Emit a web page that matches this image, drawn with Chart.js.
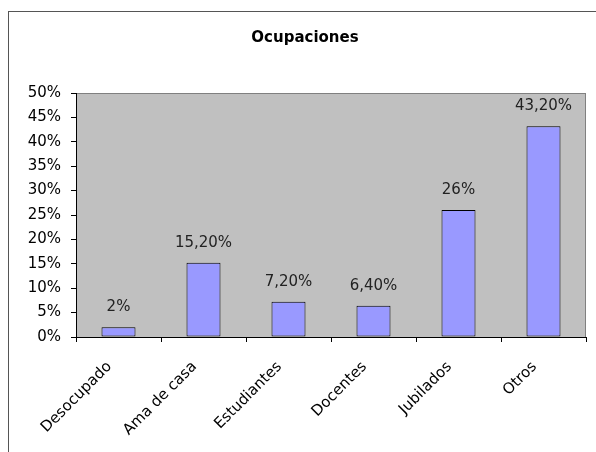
<!DOCTYPE html>
<html>
<head>
<meta charset="utf-8">
<script src="https://cdn.jsdelivr.net/npm/chart.js@4.4.1/dist/chart.umd.min.js"></script>
<style>
  body { margin: 0; background: #fff; }
</style>
</head>
<body>
<canvas id="grafica" width="596" height="452"></canvas>
<script>
// Datos
const titulo = "Ocupaciones";
const categorias = ["Desocupado", "Ama de casa", "Estudiantes", "Docentes", "Jubilados", "Otros"];
const porcentajes = [2, 15.2, 7.2, 6.4, 26, 43.2];
const etiquetas = ["2%", "15,20%", "7,20%", "6,40%", "26%", "43,20%"];
const ticksY = [0, 5, 10, 15, 20, 25, 30, 35, 40, 45, 50];

const FUENTE = "'DejaVu Sans', sans-serif";

// Fondo gris del area de trazado, marco exterior y titulo
const fondo = {
  id: "fondo",
  beforeDraw(chart) {
    const ctx = chart.ctx;
    const a = chart.chartArea;
    ctx.save();
    ctx.fillStyle = "#fff";
    ctx.fillRect(0, 0, chart.width, chart.height);
    ctx.strokeStyle = "#555";
    ctx.lineWidth = 1;
    ctx.strokeRect(8.5, 11.5, 800, 800);
    ctx.fillStyle = "#c0c0c0";
    ctx.fillRect(a.left, a.top, a.right - a.left, a.bottom - a.top);
    ctx.strokeStyle = "#808080";
    ctx.strokeRect(a.left + 0.5, a.top + 0.5, a.right - a.left - 1, a.bottom - a.top);
    // titulo (el de Excel no queda centrado en el lienzo)
    ctx.font = "bold 15px " + FUENTE;
    ctx.fillStyle = "#000";
    ctx.textAlign = "center";
    ctx.textBaseline = "middle";
    ctx.fillText(titulo, 305, 38);
    ctx.restore();
  },
};

// Etiquetas de valor encima de cada barra
const valores = {
  id: "valores",
  afterDatasetsDraw(chart) {
    const ctx = chart.ctx;
    const meta = chart.getDatasetMeta(0);
    ctx.save();
    ctx.font = "15px " + FUENTE;
    ctx.fillStyle = "#222";
    ctx.textAlign = "center";
    ctx.textBaseline = "middle";
    meta.data.forEach((barra, i) => {
      ctx.fillText(etiquetas[i], barra.x, barra.y - 20);
    });
    ctx.restore();
  },
};

let grafica = new Chart(document.getElementById("grafica"), {
  type: "bar",
  data: {
    labels: categorias,
    datasets: [
      {
        data: porcentajes,
        backgroundColor: "#9999ff",
        borderColor: "#000",
        borderWidth: 1,
        borderSkipped: false,
        barPercentage: 0.8,
        categoryPercentage: 0.5,
      },
    ],
  },
  options: {
    responsive: false,
    animation: false,
    layout: { padding: { left: 0, top: 93, right: 10, bottom: 0 } },
    plugins: {
      legend: { display: false },
      tooltip: { enabled: false },
      title: { display: false },
    },
    scales: {
      x: {
        offset: true,
        grid: { drawOnChartArea: false, offset: true, tickLength: 5, color: "#000" },
        border: { color: "#000" },
        ticks: {
          color: "#000",
          font: { family: FUENTE, size: 15 },
          minRotation: 45,
          maxRotation: 45,
          autoSkip: false,
          padding: 16,
          labelOffset: -9,
        },
        afterFit(scale) {
          scale.height = 115;
        },
      },
      y: {
        min: 0,
        max: 50,
        grid: { drawOnChartArea: false, tickLength: 5, color: "#000" },
        border: { color: "#000" },
        afterBuildTicks(scale) {
          scale.ticks = ticksY.map((v) => ({ value: v }));
        },
        ticks: {
          color: "#000",
          font: { family: FUENTE, size: 15 },
          padding: 10,
          callback: (v) => v + "%",
        },
        afterFit(scale) {
          scale.width = 76;
        },
      },
    },
  },
  plugins: [fondo, valores],
});
</script>
</body>
</html>
